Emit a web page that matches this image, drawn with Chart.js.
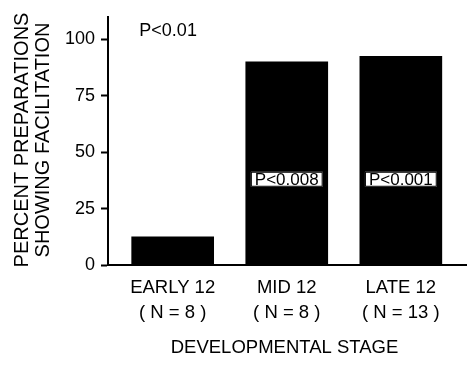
<!DOCTYPE html>
<html>
<head>
<meta charset="utf-8">
<script src="https://cdn.jsdelivr.net/npm/chart.js@4"></script>
<style>
  html, body { margin: 0; padding: 0; background: #fff; }
  #wrap { width: 467px; height: 365px; }
</style>
</head>
<body>
<div id="wrap"><canvas id="myChart" width="467" height="365"></canvas></div>
<script>
// datos del gráfico
const categorias = ['EARLY 12', 'MID 12', 'LATE 12'];
const nMuestras = ['( N = 8 )', '( N = 8 )', '( N = 13 )'];
const porcentajes = [12.5, 90, 92.5];
const etiquetasP = [null, 'P<0.008', 'P<0.001'];
const pGlobal = 'P<0.01';
const ticksY = [0, 25, 50, 75, 100];

const FUENTE = '"Liberation Sans", Arial, Helvetica, sans-serif';

// textos extra: títulos de ejes y valores P
const textosExtra = {
  id: 'textosExtra',
  afterDraw(chart) {
    const ctx = chart.ctx;
    const x = chart.scales.x;
    const y = chart.scales.y;
    ctx.save();
    ctx.fillStyle = '#000';
    ctx.textAlign = 'center';
    ctx.textBaseline = 'middle';

    // título eje Y (dos líneas, rotado)
    ctx.save();
    ctx.translate(22, 140);
    ctx.rotate(-Math.PI / 2);
    ctx.font = '20px ' + FUENTE;
    ctx.fillText('PERCENT PREPARATIONS', 0, 0);
    ctx.fillText('SHOWING FACILITATION', 0, 21);
    ctx.restore();

    // título eje X
    ctx.font = '18.5px ' + FUENTE;
    ctx.fillText('DEVELOPMENTAL STAGE', (x.left + x.right) / 2 - 3, 348);

    // P global
    ctx.font = '18px ' + FUENTE;
    ctx.fillText(pGlobal, x.getPixelForValue(-0.04), y.getPixelForValue(103.5));

    // cajas con P dentro de las barras
    ctx.font = '17px ' + FUENTE;
    etiquetasP.forEach((t, i) => {
      if (!t) return;
      const cx = x.getPixelForValue(i);
      const cy = y.getPixelForValue(38);
      const w = ctx.measureText(t).width + 8;
      const h = 15;
      ctx.fillStyle = '#fff';
      ctx.fillRect(cx - w / 2, cy - h / 2, w, h);
      ctx.strokeStyle = '#000';
      ctx.lineWidth = 1;
      ctx.strokeRect(cx - w / 2 + 0.5, cy - h / 2 + 0.5, w - 1, h - 1);
      ctx.fillStyle = '#000';
      ctx.fillText(t, cx, cy + 1);
    });
    ctx.restore();
  }
};

const ctx = document.getElementById('myChart').getContext('2d');
new Chart(ctx, {
  type: 'bar',
  data: {
    datasets: [{
      data: porcentajes.map((v, i) => ({ x: i, y: v })),
      backgroundColor: '#000',
      borderWidth: 0,
      barThickness: 82
    }]
  },
  options: {
    responsive: false,
    animation: false,
    layout: { padding: { top: 11, right: 0, left: 0, bottom: 0 } },
    plugins: {
      legend: { display: false },
      tooltip: { enabled: false }
    },
    scales: {
      x: {
        type: 'linear',
        offset: false,
        min: -0.567,
        max: 2.58,
        afterFit: (s) => { s.height = 100; },
        afterBuildTicks: (s) => { s.ticks = categorias.map((c, i) => ({ value: i })); },
        border: { display: true, color: '#000', width: 2 },
        grid: { display: false, drawTicks: false },
        ticks: {
          color: '#000',
          font: { family: FUENTE, size: 18.5, lineHeight: 1.36 },
          padding: 10,
          maxRotation: 0,
          autoSkip: false,
          callback: (v) => [categorias[v], nMuestras[v]]
        }
      },
      y: {
        min: 0,
        max: 110,
        afterFit: (s) => { s.width = 108; },
        afterBuildTicks: (s) => { s.ticks = ticksY.map(v => ({ value: v })); },
        border: { display: true, color: '#000', width: 2 },
        grid: {
          drawOnChartArea: false,
          drawTicks: true,
          tickLength: 7,
          tickWidth: 2,
          tickColor: '#000'
        },
        ticks: {
          color: '#000',
          font: { family: FUENTE, size: 18 },
          padding: 6
        }
      }
    }
  },
  plugins: [textosExtra]
});
</script>
</body>
</html>
